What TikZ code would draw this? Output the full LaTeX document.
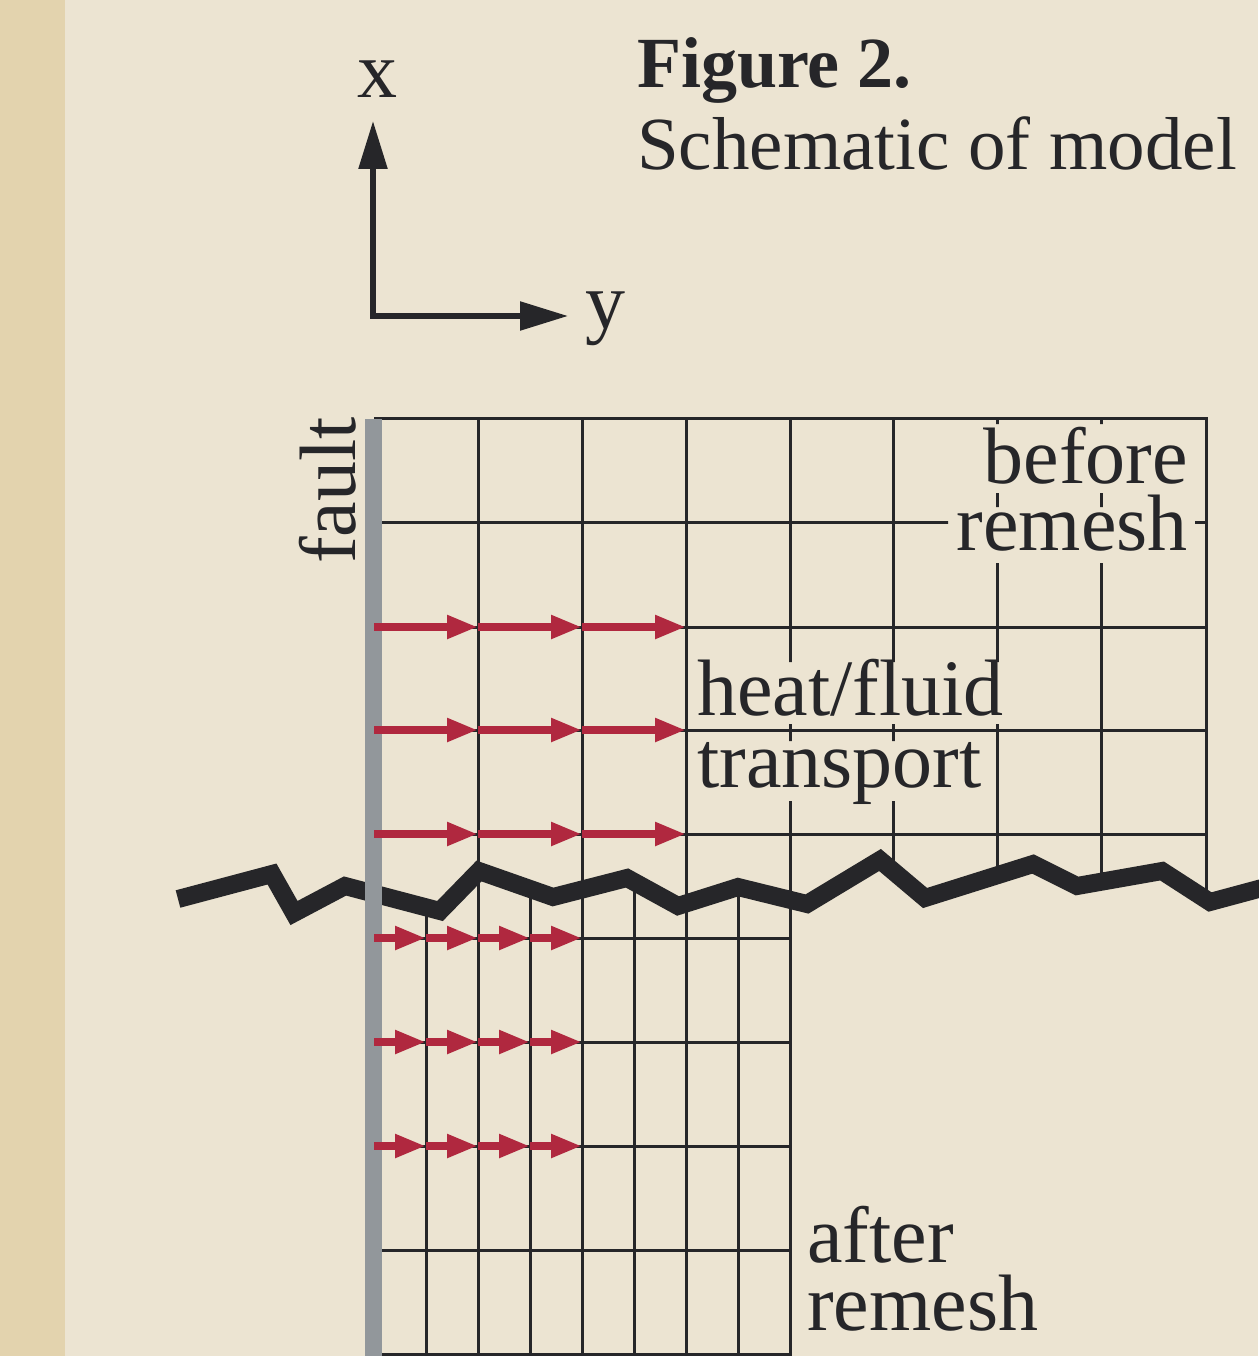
\documentclass[tikz,border=0pt]{standalone}
\usepackage{fontspec}
\setmainfont{Liberation Serif}
\usetikzlibrary{arrows.meta}
\definecolor{bgc}{HTML}{ECE4D2}
\definecolor{strip}{HTML}{E3D3AE}
\definecolor{ink}{HTML}{262629}
\definecolor{flt}{HTML}{92979B}
\definecolor{arr}{HTML}{B0283F}
\tikzset{
  txt/.style={inner sep=0pt, text=ink, font=\fontsize{80}{80}\selectfont},
  gridl/.style={draw=ink, line width=3pt},
  redarr/.style={draw=arr, line width=8.5pt, -{Triangle[length=31pt,width=22pt]}},
  zigline/.style={draw=ink, line width=18pt, miter limit=10},
  axisline/.style={draw=ink, line width=5.5pt, {Triangle[length=48pt,width=28pt]}-{Triangle[length=48pt,width=28pt]}}
}
\begin{document}
\begin{tikzpicture}[x=1pt,y=-1pt]
\useasboundingbox (0,0) rectangle (1258,1356);
\fill[bgc] (0,0) rectangle (1258,1356);
\fill[strip] (0,0) rectangle (65,1356);
% zigzag coordinates
\coordinate (z1) at (178,899);
\coordinate (z2) at (272,874);
\coordinate (z3) at (294,913);
\coordinate (z4) at (345,886);
\coordinate (z5) at (440,911);
\coordinate (z6) at (479,871);
\coordinate (z7) at (553,897);
\coordinate (z8) at (627,878);
\coordinate (z9) at (678,906);
\coordinate (z10) at (738,887);
\coordinate (z11) at (807,904);
\coordinate (z12) at (880,860);
\coordinate (z13) at (925,898);
\coordinate (z14) at (1033,864);
\coordinate (z15) at (1077,886);
\coordinate (z16) at (1162,871);
\coordinate (z17) at (1210,902);
\coordinate (z18) at (1262,888);
% upper grid (before remesh), with gaps behind the labels
\begin{scope}
\clip (0,0) -- (0,899) -- (z1) -- (z2) -- (z3) -- (z4) -- (z5) -- (z6) -- (z7) -- (z8) -- (z9) -- (z10) -- (z11) -- (z12) -- (z13) -- (z14) -- (z15) -- (z16) -- (z17) -- (z18) -- (1262,0) -- cycle;
\begin{scope}[even odd rule]
\clip (0,0) rectangle (1262,1356)
  (982,424) rectangle (1196,493)
  (948,507) rectangle (1195,563)
  (690,662) rectangle (1017,724)
  (690,741) rectangle (996,801);
\draw[gridl] (374,418) -- (1206,418) -- (1206,960);
\foreach \y in {522,627,730,834} \draw[gridl] (382,\y) -- (1206,\y);
\foreach \x in {478,582,686,790,893,997,1101} \draw[gridl] (\x,418) -- (\x,960);
\end{scope}
\end{scope}
% lower grid (after remesh)
\begin{scope}
\clip (0,1356) -- (0,899) -- (z1) -- (z2) -- (z3) -- (z4) -- (z5) -- (z6) -- (z7) -- (z8) -- (z9) -- (z10) -- (z11) -- (z12) -- (z13) -- (z14) -- (z15) -- (z16) -- (z17) -- (z18) -- (1262,1356) -- cycle;
\foreach \x in {426,478,530,582,634,686,738} \draw[gridl] (\x,840) -- (\x,1354);
\foreach \y in {938,1042,1146,1250} \draw[gridl] (382,\y) -- (790,\y);
\draw[gridl] (374,1354) -- (790,1354) -- (790,840);
\end{scope}
% zigzag
\draw[zigline] (z1) -- (z2) -- (z3) -- (z4) -- (z5) -- (z6) -- (z7) -- (z8) -- (z9) -- (z10) -- (z11) -- (z12) -- (z13) -- (z14) -- (z15) -- (z16) -- (z17) -- (z18);
% fault
\fill[flt] (365,419) rectangle (382,1356);
% arrows
\foreach \y in {627,730,834}{
  \foreach \x in {374,478,582}{
    \draw[redarr] (\x,\y) -- ({\x+104},\y);
  }
}
\foreach \y in {938,1042,1146}{
  \foreach \x in {374,426,478,530}{
    \draw[redarr] (\x,\y) -- ({\x+52},\y);
  }
}
% texts
\node[txt,anchor=base east] (before) at (1188,483) {before};
\node[txt,anchor=base east] (remeshA) at (1188,550) {remesh};
\node[txt,anchor=base west] (heat) at (697,715) {heat/fluid};
\node[txt,anchor=base west] (transport) at (697,787) {transport};
\node[txt,anchor=base west] (after) at (807,1262) {after};
\node[txt,anchor=base west] (remeshB) at (807,1330) {remesh};
\node[txt,anchor=base west,rotate=90] (fault) at (355,564) {fault};
\node[txt,anchor=base west,font=\fontsize{72}{72}\bfseries\selectfont] (fig) at (637,88) {Figure 2.};
\node[txt,anchor=base west,font=\fontsize{75}{75}\selectfont] (sub) at (637,170) {Schematic of model};
% axes
\coordinate (O) at (373,316);
\coordinate (xt) at (373,121);
\coordinate (yt) at (568,316);
\draw[axisline] (xt) -- (O) -- (yt);
\node[txt,anchor=base] (xl) at (377,98) {x};
\node[txt,anchor=base west] (yl) at (585,328) {y};
\end{tikzpicture}
\end{document}
